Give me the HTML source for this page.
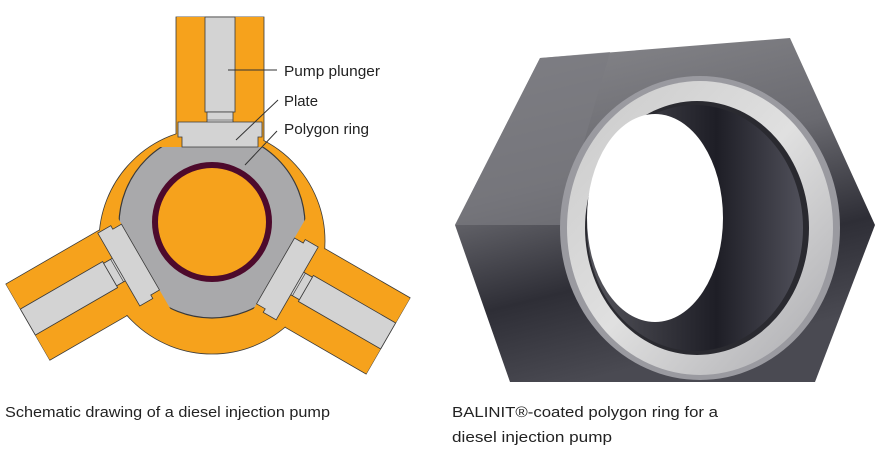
<!DOCTYPE html>
<html><head><meta charset="utf-8"><style>
html,body{margin:0;padding:0;background:#fff;}
svg{display:block;}
</style></head><body>
<svg width="879" height="471" viewBox="0 0 879 471" xmlns="http://www.w3.org/2000/svg" font-family="Liberation Sans, sans-serif">
<defs>
  <g id="armS">
    <rect x="176" y="17" width="88" height="170" fill="#f6a21c" stroke="#3a3a3a" stroke-width="0.8"/>
  </g>
  <g id="armF">
    <rect x="176.6" y="17" width="86.8" height="155" fill="#f6a21c"/>
  </g>
  <g id="plunger">
    <rect x="205" y="17" width="30" height="95" fill="#d3d3d3" stroke="#3a3a3a" stroke-width="0.8"/>
    <rect x="207" y="112" width="26" height="16" fill="#d3d3d3" stroke="#3a3a3a" stroke-width="0.8"/>
    <line x1="207" y1="120" x2="233" y2="120" stroke="#3a3a3a" stroke-width="0.6"/>
    <path d="M178,122 H262 V137 H258 V147 H182 V137 H178 Z" fill="#d3d3d3" stroke="#3a3a3a" stroke-width="0.8"/>
  </g>
  <clipPath id="tri"><polygon points="77,147 347,147 212,381"/></clipPath>
  <linearGradient id="hexg" x1="0" y1="0" x2="0.3" y2="1">
    <stop offset="0" stop-color="#8a8a8e"/>
    <stop offset="0.45" stop-color="#6a6a70"/>
    <stop offset="0.75" stop-color="#2e2e36"/>
    <stop offset="1" stop-color="#4a4a52"/>
  </linearGradient>
  <linearGradient id="ringg" x1="0" y1="0" x2="1" y2="1">
    <stop offset="0" stop-color="#c9c9c9"/>
    <stop offset="0.5" stop-color="#e0e0e0"/>
    <stop offset="1" stop-color="#a9a9ad"/>
  </linearGradient>
  <linearGradient id="innerg" x1="0" y1="0" x2="1" y2="0">
    <stop offset="0" stop-color="#55555c"/>
    <stop offset="0.6" stop-color="#1e1e26"/>
    <stop offset="1" stop-color="#50505a"/>
  </linearGradient>
</defs>

<use href="#armS"/>
<use href="#armS" transform="rotate(-120 212 225)"/>
<use href="#armS" transform="rotate(120 212 225)"/>
<circle cx="212" cy="241" r="113" fill="#f6a21c" stroke="#3a3a3a" stroke-width="0.8"/>
<use href="#armF"/>
<use href="#armF" transform="rotate(-120 212 225)"/>
<use href="#armF" transform="rotate(120 212 225)"/>
<circle cx="212" cy="225" r="93" fill="#a9a9ab" stroke="#3a3a3a" stroke-width="1.2" clip-path="url(#tri)"/>
<circle cx="212" cy="222" r="57" fill="#f6a21c" stroke="#4d0a2c" stroke-width="6"/>
<use href="#plunger"/>
<use href="#plunger" transform="rotate(-120 212 225)"/>
<use href="#plunger" transform="rotate(120 212 225)"/>

<g stroke="#333" stroke-width="1">
  <line x1="228" y1="70" x2="277" y2="70"/>
  <line x1="236" y1="140" x2="278" y2="100"/>
  <line x1="245" y1="165" x2="277" y2="131"/>
</g>
<g font-size="15" fill="#222">
  <text x="284" y="76" textLength="96" lengthAdjust="spacingAndGlyphs">Pump plunger</text>
  <text x="284" y="106" textLength="34" lengthAdjust="spacingAndGlyphs">Plate</text>
  <text x="284" y="134" textLength="85" lengthAdjust="spacingAndGlyphs">Polygon ring</text>
</g>

<polygon points="455,225 540,58 790,38 875,225 815,382 510,382" fill="url(#hexg)"/>
<polygon points="455,225 540,58 610,52 560,225" fill="#7b7b80" opacity="0.7"/>
<ellipse cx="700" cy="228" rx="140" ry="152" fill="#9a9aa0"/>
<ellipse cx="700" cy="228" rx="133" ry="147" fill="url(#ringg)"/>
<ellipse cx="697" cy="228" rx="112" ry="127" fill="#2a2a30"/>
<ellipse cx="695" cy="228" rx="108" ry="123" fill="url(#innerg)"/>
<ellipse cx="655" cy="218" rx="68" ry="104" fill="#fff"/>

<g font-size="15" fill="#222">
  <text x="5" y="417" textLength="325" lengthAdjust="spacingAndGlyphs">Schematic drawing of a diesel injection pump</text>
  <text x="452" y="417" textLength="266" lengthAdjust="spacingAndGlyphs">BALINIT®-coated polygon ring for a</text>
  <text x="452" y="442" textLength="160" lengthAdjust="spacingAndGlyphs">diesel injection pump</text>
</g>
</svg>
</body></html>
